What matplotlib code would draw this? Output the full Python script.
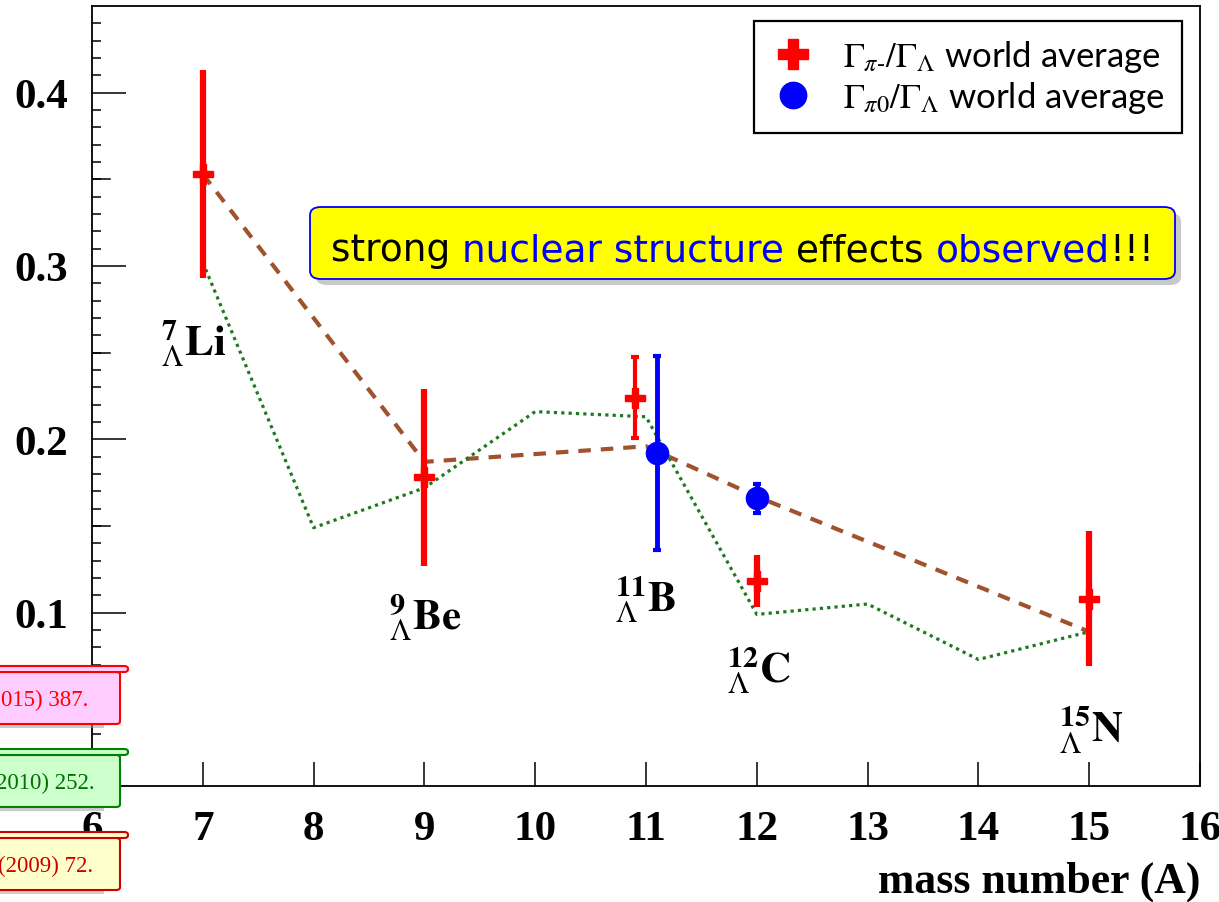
import numpy as np
import matplotlib
matplotlib.use('Agg')
import matplotlib.pyplot as plt
from matplotlib.patches import FancyBboxPatch
from matplotlib.lines import Line2D
import matplotlib.transforms as mtransforms

plt.rcParams['mathtext.fontset'] = 'stix'

# world averages, Gamma_pi- / Gamma_Lambda
pim_A = [7, 9, 10.9, 12, 15]
pim_val = [0.353, 0.178, 0.224, 0.118, 0.108]
pim_err = [0.060, 0.051, 0.0235, 0.015, 0.039]

# world averages, Gamma_pi0 / Gamma_Lambda
pi0_A = [11.1, 12]
pi0_val = [0.192, 0.166]
pi0_err = [0.056, 0.0085]

# calculations
calc1_A = [7, 9, 11, 12, 15]
calc1_val = [0.353, 0.187, 0.196, 0.167, 0.089]
calc2_A = [7, 8, 9, 10, 11, 12, 13, 14, 15]
calc2_val = [0.302, 0.149, 0.172, 0.216, 0.213, 0.099, 0.105, 0.073, 0.089]

# hypernucleus labels
hyp_names = ['Li', 'Be', 'B', 'C', 'N']
hyp_mass = ['7', '9', '11', '12', '15']
hyp_x = [6.92, 9.01, 11.0, 12.02, 15.02]
hyp_y = [0.249, 0.0906, 0.101, 0.060, 0.0254]

# reference boxes on the left (cut off)
cite_texts = ['015) 387.', '2010) 252.', '(2009) 72.']
cite_face = ['#ffccff', '#ccffcc', '#ffffcc']
cite_edge = ['#ff0000', '#008000', '#cc0000']
cite_color = ['#ff0000', '#007000', '#cc0000']
cite_top = [667, 750, 833]
cite_right = [88, 95, 93]

W, H = 1219, 903


def fx(px):
    return px / W


def fy(py):
    return 1 - py / H


fig = plt.figure(figsize=(W / 100, H / 100), dpi=100)
ax = fig.add_axes([fx(92), fy(787), fx(1200) - fx(92), fy(7) - fy(787)])

ax.plot(calc1_A, calc1_val, color='#a0522d', lw=3, dashes=(3, 2.4), zorder=2)
ax.plot(calc2_A, calc2_val, color='#1f7a1f', lw=2.3, dashes=(1, 1.3), zorder=2)

# thick error bars without caps, thin ones with caps (ROOT style)
for a, v, e in zip(pim_A, pim_val, pim_err):
    thin = a != int(a)
    ax.errorbar(a, v, yerr=e, fmt='none', ecolor='red', elinewidth=3 if thin else 4.5,
                capsize=3 if thin else 0, capthick=3, zorder=3)
ax.plot(pim_A, pim_val, ls='none', marker='P', ms=14.5, color='red', mec='red', zorder=4)
ax.errorbar(pi0_A, pi0_val, yerr=pi0_err, fmt='o', ms=16, color='blue', ecolor='blue',
            elinewidth=3.5, capsize=3, capthick=3, zorder=4)

for name, m, x, y in zip(hyp_names, hyp_mass, hyp_x, hyp_y):
    ax.text(x, y, r'${}^{\mathbf{%s}}_{\Lambda}\mathbf{%s}$' % (m, name), fontsize=31,
            ha='center', va='baseline', zorder=5)

ax.set_xlim(6, 16)
ax.set_ylim(0, 0.45)
ax.set_xticks(np.arange(6, 17, 1))
ax.set_yticks([0.1, 0.2, 0.3, 0.4])
ax.set_yticks(np.arange(0.01, 0.45, 0.01), minor=True)
ax.tick_params(axis='y', which='major', direction='in', length=24.5, width=1.1, pad=17)
ax.tick_params(axis='y', which='minor', direction='in', length=6.5, width=1.1)
ax.tick_params(axis='x', which='major', direction='in', length=17, width=1.1, pad=17)
for lab in ax.get_xticklabels() + ax.get_yticklabels():
    lab.set_fontfamily('Liberation Serif')
    lab.set_fontweight('bold')
    lab.set_fontsize(31)
# medium ticks at x.x5
trans = mtransforms.blended_transform_factory(ax.transAxes, ax.transData)
for y in np.arange(0.05, 0.45, 0.1):
    ax.plot([0, 18 / 1108], [y, y], transform=trans, color='k', lw=1.1, zorder=1)
for s in ax.spines.values():
    s.set_linewidth(1.3)

ax.set_xlabel('mass number (A)', fontfamily='Liberation Serif', fontweight='bold',
              fontsize=31.5, loc='right', labelpad=9)

# legend
h1 = Line2D([], [], ls='none', marker='P', ms=21, color='red')
h2 = Line2D([], [], ls='none', marker='o', ms=19, color='blue')
leg = ax.legend([h1, h2], [r'$\Gamma_{\pi\text{-}}/\Gamma_{\Lambda}$ world average',
                           r'$\Gamma_{\pi0}/\Gamma_{\Lambda}$ world average'],
                loc='upper right', bbox_to_anchor=(0.984, 0.981), fancybox=False,
                edgecolor='black', framealpha=1, prop={'family': 'Lato', 'size': 25},
                borderpad=0.5, labelspacing=0.15, handletextpad=0.85, handlelength=1.2,
                borderaxespad=0)
leg.get_frame().set_linewidth(1.6)

# highlighted comment box
sh = FancyBboxPatch((fx(316), fy(286)), fx(1175) - fx(310), fy(208) - fy(280),
                    boxstyle='round,pad=0,rounding_size=0.009', transform=fig.transFigure,
                    facecolor='#888888', edgecolor='none', alpha=0.45, zorder=6,
                    clip_on=False)
ax.add_patch(sh)
box = FancyBboxPatch((fx(310), fy(280)), fx(1175) - fx(310), fy(208) - fy(280),
                     boxstyle='round,pad=0,rounding_size=0.009', transform=fig.transFigure,
                     facecolor='yellow', edgecolor='blue', lw=1.3, zorder=7, clip_on=False)
ax.add_patch(box)
pieces = [('strong ', 'black'), ('nuclear structure', 'blue'), (' effects ', 'black'),
          ('observed', 'blue'), ('!!!', 'black')]
t = ax.text(fx(331), fy(269), pieces[0][0], color=pieces[0][1], fontsize=27,
            fontfamily='DejaVu Sans', va='bottom', transform=fig.transFigure, zorder=8)
for txt, col in pieces[1:]:
    t = ax.annotate(txt, xy=(1, 0), xycoords=t, va='bottom', color=col, fontsize=27,
                    fontfamily='DejaVu Sans', annotation_clip=False, zorder=8)

# cut-off reference boxes at the left edge
for txt, fc, ec, tc, top, xr in zip(cite_texts, cite_face, cite_edge, cite_color,
                                    cite_top, cite_right):
    shadow = FancyBboxPatch((fx(-20), fy(top + 62)), fx(124), fy(top + 6) - fy(top + 58),
                            boxstyle='square,pad=0', transform=fig.transFigure,
                            facecolor='#999999', edgecolor='none', alpha=0.5, zorder=9)
    fig.add_artist(shadow)
    body = FancyBboxPatch((fx(-20), fy(top + 58)), fx(140), fy(top + 6) - fy(top + 58),
                          boxstyle='round,pad=0,rounding_size=0.003', transform=fig.transFigure,
                          facecolor=fc, edgecolor=ec, lw=1.5, zorder=10)
    fig.add_artist(body)
    tab = FancyBboxPatch((fx(-20), fy(top + 6)), fx(148), fy(top) - fy(top + 6),
                         boxstyle='round,pad=0,rounding_size=0.003', transform=fig.transFigure,
                         facecolor=fc, edgecolor=ec, lw=1.5, zorder=11)
    fig.add_artist(tab)
    fig.text(fx(xr), fy(top + 33), txt, color=tc, fontsize=16.5, fontfamily='Liberation Serif',
             ha='right', va='center', zorder=12)

fig.savefig('out.png', dpi=100)
